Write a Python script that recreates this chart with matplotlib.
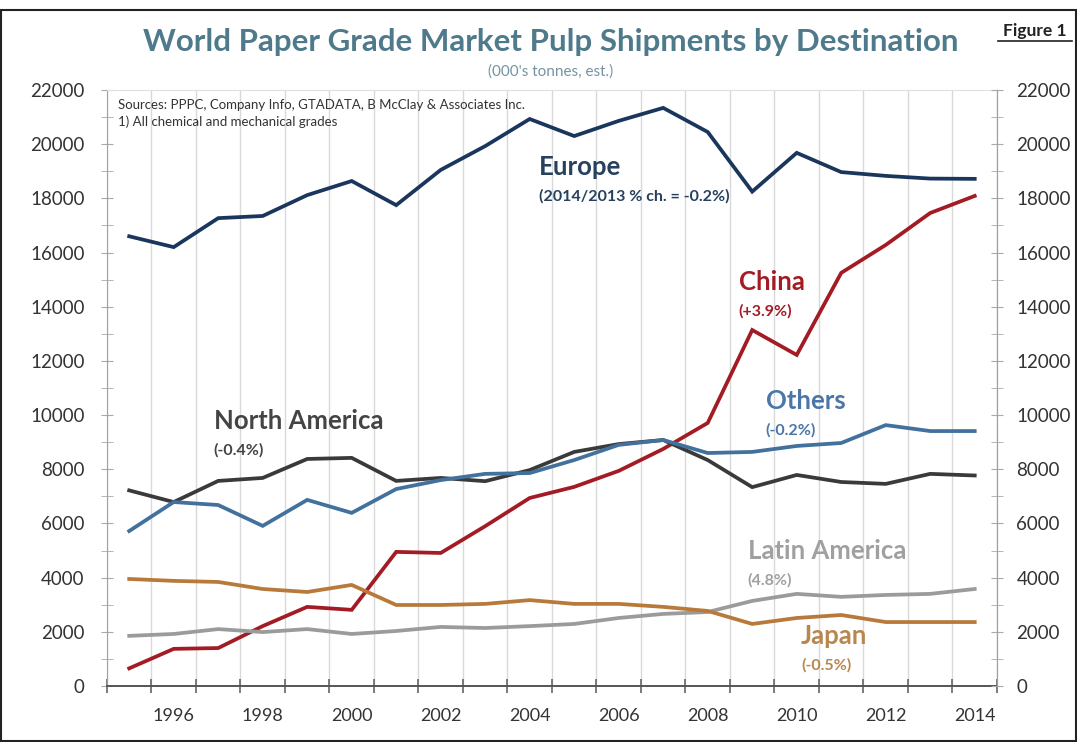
#!/usr/bin/env python3
import matplotlib.pyplot as plt
from matplotlib.patches import Rectangle
from matplotlib.ticker import MultipleLocator
import numpy as np

years = list(range(1995, 2015))

europe = [16600, 16200, 17270, 17350, 18120, 18640, 17750, 19050, 19930, 20930,
          20300, 20860, 21340, 20450, 18250, 19680, 18970, 18830, 18730, 18720]
china = [650, 1370, 1400, 2210, 2920, 2810, 4950, 4910, 5900, 6940,
         7350, 7940, 8750, 9710, 13140, 12220, 15250, 16280, 17460, 18090]
north_america = [7220, 6790, 7570, 7680, 8380, 8420, 7570, 7680, 7560, 7970,
                 8640, 8930, 9080, 8340, 7340, 7790, 7530, 7460, 7830, 7770]
others = [5720, 6790, 6680, 5910, 6870, 6390, 7270, 7600, 7830, 7860,
          8340, 8900, 9080, 8600, 8640, 8860, 8970, 9630, 9410, 9410]
latin_america = [1850, 1920, 2100, 1990, 2100, 1920, 2030, 2180, 2140, 2210,
                 2290, 2510, 2660, 2730, 3140, 3400, 3290, 3360, 3400, 3580]
japan = [3950, 3880, 3840, 3580, 3470, 3730, 2990, 2990, 3030, 3170,
         3030, 3030, 2920, 2770, 2290, 2510, 2620, 2360, 2360, 2360]

series = [
    ("Europe", "(2014/2013 % ch. = -0.2%)", europe, "#1b365d"),
    ("China", "(+3.9%)", china, "#a31b24"),
    ("North America", "(-0.4%)", north_america, "#3a3a3a"),
    ("Others", "(-0.2%)", others, "#41719c"),
    ("Latin America", "(4.8%)", latin_america, "#9b9b9b"),
    ("Japan", "(-0.5%)", japan, "#b87a3a"),
]
label_colors = {"Europe": "#26405e", "China": "#a31b24", "North America": "#444444",
                "Others": "#4a76a8", "Latin America": "#a0a0a0", "Japan": "#b8874e"}
# where each series label sits (year, value)
label_pos = {"Europe": (2004.2, 19150), "China": (2008.7, 14900),
             "North America": (1996.9, 9780), "Others": (2009.3, 10520),
             "Latin America": (2008.9, 4980), "Japan": (2010.1, 1850)}

plt.rcParams['font.family'] = ['Lato', 'DejaVu Sans']

fig = plt.figure(figsize=(10.77, 7.42), dpi=100)
ax = fig.add_axes([0.0993, 0.0755, 0.8264, 0.8032])

for name, pct, vals, col in series:
    ax.plot(years, vals, color=col, lw=2.7, solid_joinstyle='miter', zorder=3)
    lx, ly = label_pos[name]
    ax.text(lx, ly, name, color=label_colors[name], fontsize=18.5, fontweight='bold',
            ha='left', va='center', zorder=4)
    ax.text(lx, ly - 1080, pct, color=label_colors[name], fontsize=11.5, fontweight='bold',
            ha='left', va='center', zorder=4)

ax.set_xlim(1994.5, 2014.5)
ax.set_ylim(0, 22000)
ax.set_xticks(range(1996, 2015, 2))
ax.set_xticks(np.arange(1994.5, 2015, 1), minor=True)
ax.grid(True, which='minor', axis='x', color='#d9d9d9', lw=1)
ax.yaxis.set_major_locator(MultipleLocator(2000))
ax.yaxis.set_minor_locator(MultipleLocator(1000))
ax.tick_params(axis='x', which='major', length=0, labelsize=13, pad=16, colors='#333333')
ax.tick_params(axis='x', which='minor', length=10, direction='inout', color='#666666', width=1.2)
ax.tick_params(axis='y', which='both', length=8, direction='inout', color='#aaaaaa',
               labelsize=13.5, pad=12, colors='#333333')
ax.tick_params(axis='y', which='both', color='#aaaaaa')
for s in ['left', 'right']:
    ax.spines[s].set_color('#a0a0a0')
ax.spines['bottom'].set_color('#555555')
ax.spines['bottom'].set_linewidth(1.4)
ax.spines['top'].set_color('#e0e0e0')

ax2 = ax.twinx()
ax2.set_ylim(0, 22000)
ax2.yaxis.set_major_locator(MultipleLocator(2000))
ax2.yaxis.set_minor_locator(MultipleLocator(1000))
ax2.tick_params(axis='y', which='both', length=8, direction='inout', color='#aaaaaa',
                labelsize=13.5, labelcolor='#333333', pad=10)
for s in ['left', 'top', 'bottom']:
    ax2.spines[s].set_visible(False)
ax2.spines['right'].set_color('#a0a0a0')

ax.text(0.012, 0.985, "Sources: PPPC, Company Info, GTADATA, B McClay & Associates Inc.\n"
        "1) All chemical and mechanical grades", transform=ax.transAxes,
        fontsize=9.5, color='#333333', ha='left', va='top', linespacing=1.45)

fig.text(0.511, 0.943, "World Paper Grade Market Pulp Shipments by Destination",
         fontsize=22.5, fontweight='bold', color='#4e7a8c', ha='center', va='center')
fig.text(0.511, 0.903, "(000's tonnes, est.)", fontsize=11, color='#7593a0',
         ha='center', va='center')
fig.text(0.961, 0.958, "Figure 1", fontsize=12.5, fontweight='bold', color='#222222',
         ha='center', va='center')
fig.add_artist(plt.Line2D([0.927, 0.995], [0.945, 0.945], color='#222222', lw=1.2))

fig.add_artist(Rectangle((0.001, 0.002), 0.998, 0.985, transform=fig.transFigure,
                         fill=False, ec='#222222', lw=1.5))

fig.savefig('out.png', dpi=100)
